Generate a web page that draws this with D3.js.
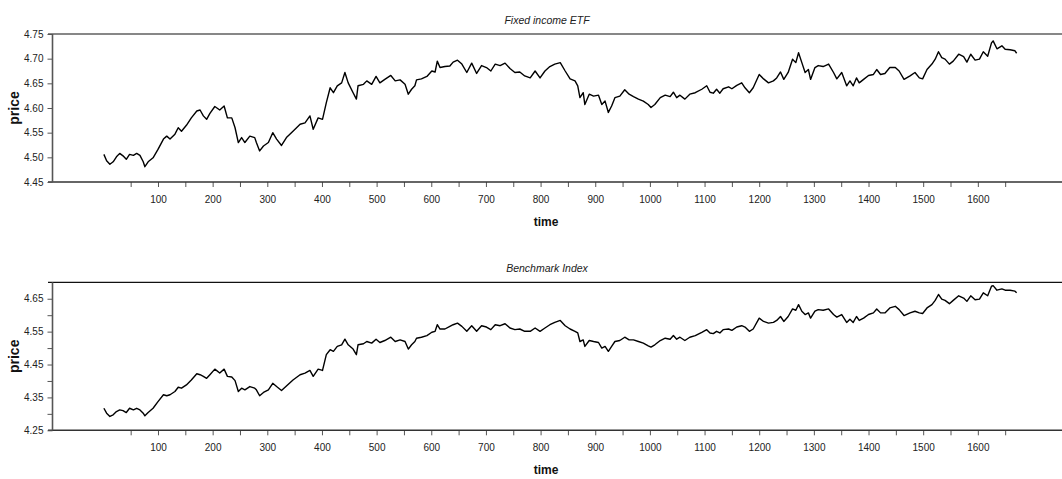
<!DOCTYPE html>
<html>
<head>
<meta charset="utf-8">
<script src="https://cdn.jsdelivr.net/npm/d3@7"></script>
<style>
  body { margin: 0; background: #fff; }
  svg { display: block; font-family: "Liberation Sans", Arial, sans-serif; }
</style>
</head>
<body>
<div id="chart"></div>
<script>
const time = [1,6,12,18,24,30,36,42,48,55,61,67,73,76,82,91,100,110,116,122,131,137,143,152,161,171,177,183,189,195,204,213,221,227,235,241,247,253,259,268,277,280,286,293,302,310,317,326,335,347,360,369,378,384,393,401,408,415,421,428,436,442,448,457,463,466,476,482,491,499,506,515,526,534,543,552,558,564,570,573,582,592,601,607,611,616,625,634,640,648,656,665,674,683,692,701,709,717,726,735,744,753,762,771,781,790,799,808,817,826,836,845,854,863,868,872,878,881,889,897,906,912,918,924,930,936,945,954,962,970,979,988,997,1002,1009,1019,1028,1037,1043,1049,1055,1064,1073,1083,1095,1104,1110,1116,1122,1128,1134,1144,1150,1159,1168,1174,1182,1189,1200,1208,1217,1226,1232,1239,1245,1253,1261,1267,1272,1278,1284,1290,1294,1302,1308,1317,1327,1336,1342,1351,1360,1366,1372,1378,1383,1391,1400,1409,1415,1422,1430,1439,1449,1456,1465,1476,1485,1493,1499,1507,1516,1522,1528,1534,1540,1548,1555,1565,1574,1580,1587,1595,1603,1610,1618,1625,1628,1635,1644,1650,1659,1668,1671];

const etfPrice = [4.506,4.493,4.486,4.491,4.501,4.508,4.503,4.496,4.506,4.504,4.508,4.504,4.491,4.481,4.491,4.499,4.516,4.537,4.543,4.537,4.547,4.560,4.553,4.565,4.580,4.594,4.596,4.584,4.577,4.589,4.603,4.596,4.604,4.580,4.580,4.560,4.530,4.540,4.530,4.543,4.540,4.530,4.513,4.523,4.530,4.550,4.537,4.524,4.540,4.553,4.567,4.570,4.584,4.557,4.580,4.577,4.611,4.641,4.631,4.645,4.651,4.672,4.651,4.631,4.618,4.645,4.648,4.655,4.648,4.664,4.651,4.658,4.666,4.655,4.657,4.648,4.628,4.638,4.645,4.657,4.659,4.664,4.675,4.673,4.695,4.682,4.684,4.685,4.693,4.697,4.689,4.672,4.691,4.670,4.686,4.682,4.675,4.689,4.686,4.691,4.680,4.672,4.673,4.665,4.661,4.675,4.661,4.675,4.684,4.689,4.692,4.675,4.659,4.655,4.645,4.621,4.631,4.607,4.628,4.624,4.626,4.607,4.614,4.591,4.604,4.621,4.624,4.637,4.628,4.623,4.618,4.614,4.607,4.601,4.607,4.621,4.626,4.623,4.632,4.621,4.626,4.618,4.628,4.631,4.638,4.645,4.632,4.630,4.638,4.630,4.639,4.643,4.639,4.646,4.651,4.641,4.631,4.641,4.668,4.659,4.651,4.655,4.661,4.673,4.658,4.672,4.699,4.692,4.712,4.692,4.672,4.678,4.658,4.682,4.686,4.684,4.689,4.672,4.659,4.672,4.645,4.655,4.645,4.661,4.651,4.658,4.666,4.668,4.678,4.668,4.670,4.682,4.682,4.675,4.658,4.665,4.672,4.661,4.659,4.678,4.689,4.699,4.714,4.702,4.699,4.689,4.695,4.709,4.704,4.693,4.709,4.697,4.699,4.714,4.705,4.732,4.736,4.720,4.726,4.719,4.718,4.716,4.711];

const indexPrice = [4.317,4.302,4.292,4.297,4.307,4.312,4.310,4.304,4.317,4.312,4.317,4.312,4.302,4.294,4.304,4.317,4.337,4.358,4.355,4.358,4.368,4.381,4.378,4.388,4.403,4.422,4.419,4.414,4.408,4.419,4.436,4.424,4.436,4.414,4.412,4.401,4.368,4.378,4.373,4.383,4.378,4.373,4.355,4.365,4.373,4.393,4.383,4.371,4.385,4.403,4.419,4.424,4.432,4.414,4.436,4.432,4.480,4.495,4.490,4.505,4.510,4.527,4.510,4.497,4.480,4.510,4.513,4.520,4.515,4.527,4.517,4.523,4.533,4.520,4.525,4.520,4.497,4.510,4.520,4.530,4.533,4.538,4.548,4.551,4.571,4.558,4.558,4.566,4.571,4.576,4.566,4.551,4.568,4.551,4.568,4.564,4.556,4.571,4.568,4.574,4.561,4.556,4.558,4.551,4.551,4.561,4.551,4.561,4.571,4.578,4.584,4.568,4.558,4.551,4.546,4.520,4.525,4.505,4.523,4.520,4.517,4.500,4.505,4.490,4.505,4.520,4.523,4.533,4.525,4.525,4.520,4.515,4.507,4.503,4.510,4.523,4.530,4.527,4.538,4.527,4.533,4.523,4.533,4.538,4.548,4.556,4.546,4.544,4.551,4.546,4.556,4.558,4.554,4.564,4.568,4.564,4.551,4.558,4.591,4.581,4.576,4.578,4.584,4.596,4.581,4.596,4.619,4.615,4.632,4.612,4.602,4.607,4.591,4.612,4.617,4.615,4.619,4.602,4.594,4.602,4.578,4.588,4.578,4.596,4.584,4.591,4.602,4.607,4.619,4.607,4.607,4.622,4.627,4.617,4.599,4.607,4.612,4.607,4.605,4.622,4.632,4.645,4.663,4.649,4.645,4.635,4.645,4.659,4.652,4.642,4.659,4.647,4.649,4.668,4.659,4.688,4.690,4.676,4.680,4.676,4.676,4.673,4.668];

const xTicks = d3.range(50, 1651, 50);
const xTickLabels = d3.range(100, 1601, 100);
const etfTicks = [4.45, 4.50, 4.55, 4.60, 4.65, 4.70, 4.75];
const etfTickLabels = etfTicks;
const indexTicks = [4.25, 4.30, 4.35, 4.40, 4.45, 4.50, 4.55, 4.60, 4.65];
const indexTickLabels = [4.25, 4.35, 4.45, 4.55, 4.65];

const width = 1062, height = 479;
const axisLeftX = 52.5, axisStart = 48;

const svg = d3.select('#chart').append('svg')
  .attr('width', width)
  .attr('height', height);

const x = d3.scaleLinear().domain([-93, 1754]).range([axisLeftX, width]);

const panels = [
  { title: 'Fixed income ETF', values: etfPrice, domain: [4.45, 4.75], top: 34, bottom: 182,
    ticks: etfTicks, labels: etfTickLabels },
  { title: 'Benchmark Index', values: indexPrice, domain: [4.25, 4.70], top: 282.3, bottom: 430.3,
    ticks: indexTicks, labels: indexTickLabels },
];

const fmt = d3.format('.2f');

panels.forEach(p => {
  const y = d3.scaleLinear().domain(p.domain).range([p.bottom, p.top]);
  const g = svg.append('g');

  // title
  g.append('text')
    .attr('x', 547)
    .attr('y', p.top - 10)
    .attr('text-anchor', 'middle')
    .attr('font-size', 10.5)
    .attr('font-style', 'italic')
    .attr('fill', '#222')
    .text(p.title);

  // top frame line
  g.append('line')
    .attr('x1', axisStart).attr('x2', width)
    .attr('y1', p.top).attr('y2', p.top)
    .attr('stroke', '#111').attr('stroke-width', 1.2);

  // x axis
  const xAxis = g.append('g')
    .attr('transform', `translate(0,${p.bottom})`)
    .call(d3.axisBottom(x)
      .tickValues(xTicks)
      .tickSize(5)
      .tickPadding(9)
      .tickFormat(d => xTickLabels.includes(d) ? d : ''));
  xAxis.select('.domain').remove();
  xAxis.append('line')
    .attr('x1', axisStart).attr('x2', width)
    .attr('stroke', '#333').attr('stroke-width', 1.4);
  xAxis.selectAll('.tick line').attr('stroke', '#555');
  xAxis.selectAll('text').attr('font-size', 10).attr('fill', '#222');

  xAxis.append('text')
    .attr('x', 546)
    .attr('y', 44)
    .attr('text-anchor', 'middle')
    .attr('font-size', 12)
    .attr('font-weight', 'bold')
    .attr('fill', '#111')
    .text('time');

  // y axis
  const yAxis = g.append('g')
    .attr('transform', `translate(${axisLeftX},0)`)
    .call(d3.axisLeft(y)
      .tickValues(p.ticks)
      .tickSize(5)
      .tickPadding(4)
      .tickFormat(d => p.labels.includes(d) ? fmt(d) : ''));
  yAxis.select('.domain').remove();
  yAxis.append('line')
    .attr('y1', p.top).attr('y2', p.bottom)
    .attr('stroke', '#555').attr('stroke-width', 1.6);
  yAxis.selectAll('.tick line').attr('stroke', '#555');
  yAxis.selectAll('text').attr('font-size', 10).attr('fill', '#222');

  g.append('text')
    .attr('transform', `translate(19,${(p.top + p.bottom) / 2}) rotate(-90)`)
    .attr('text-anchor', 'middle')
    .attr('font-size', 14)
    .attr('font-weight', 'bold')
    .attr('fill', '#111')
    .text('price');

  // series
  const line = d3.line()
    .x((d, i) => x(time[i]))
    .y(d => y(d));

  g.append('path')
    .datum(p.values)
    .attr('fill', 'none')
    .attr('stroke', '#000')
    .attr('stroke-width', 1.4)
    .attr('stroke-linejoin', 'round')
    .attr('d', line);
});
</script>
</body>
</html>
